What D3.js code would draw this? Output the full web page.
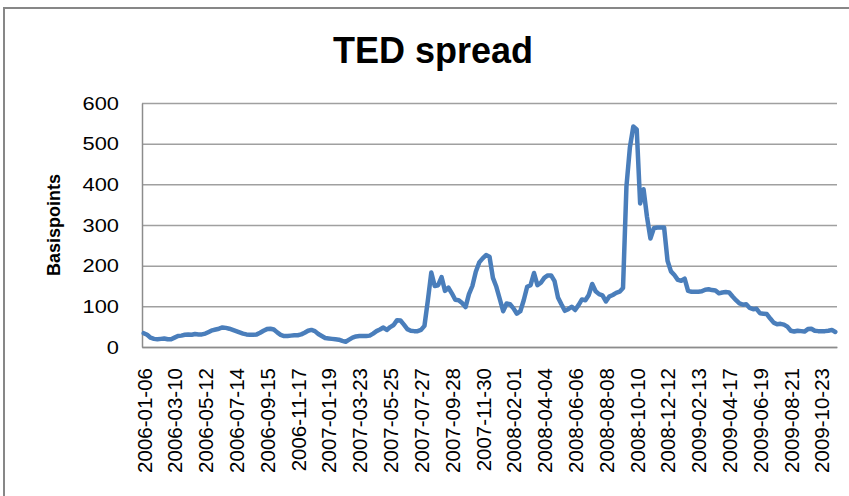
<!DOCTYPE html>
<html>
<head>
<meta charset="utf-8">
<script src="https://cdn.jsdelivr.net/npm/d3@7"></script>
<style>
  body { margin: 0; background: #fff; }
  svg { display: block; }
</style>
</head>
<body>
<svg id="chart"></svg>
<script>
'use strict'

// weekly TED spread (basis points), first week 2006-01-06
const startDate = '2006-01-06'
const spread = [
  34, 30, 23, 20, 19, 20, 21, 19, 19, 23,
  27, 28, 30, 31, 30, 32, 31, 31, 33, 37,
  41, 43, 45, 48, 47, 45, 42, 39, 36, 33,
  31, 30, 30, 31, 35, 40, 44, 45, 43, 36,
  30, 27, 27, 28, 29, 29, 31, 35, 40, 42,
  39, 32, 27, 22, 21, 20, 19, 18, 15, 13,
  18, 23, 26, 27, 27, 27, 28, 33, 39, 43,
  48, 42, 49, 54, 66, 65, 55, 44, 40, 39,
  39, 42, 52, 115, 183, 150, 152, 172, 138, 146,
  132, 116, 115, 108, 98, 130, 150, 185, 208, 218,
  226, 222, 170, 148, 118, 88, 107, 105, 95, 82,
  88, 115, 148, 152, 182, 152, 158, 170, 176, 176,
  162, 122, 105, 89, 93, 99, 91, 103, 117, 115,
  128, 155, 137, 130, 127, 112, 124, 128, 133, 136,
  145, 395, 490, 542, 535, 353, 388, 320, 267, 292,
  294, 294, 294, 212, 186, 177, 165, 163, 168, 138,
  136, 136, 136, 137, 141, 142, 140, 139, 132, 134,
  135, 134, 124, 115, 107, 104, 105, 96, 93, 94,
  83, 82, 81, 70, 60, 56, 57, 55, 50, 40,
  38, 40, 39, 38, 44, 45, 40, 39, 39, 39,
  40, 42, 37
]

const yTicks = [0, 100, 200, 300, 400, 500, 600]

const tickLabels = [
  '2006-01-06', '2006-03-10', '2006-05-12', '2006-07-14', '2006-09-15', '2006-11-17',
  '2007-01-19', '2007-03-23', '2007-05-25', '2007-07-27', '2007-09-28', '2007-11-30',
  '2008-02-01', '2008-04-04', '2008-06-06', '2008-08-08', '2008-10-10', '2008-12-12',
  '2009-02-13', '2009-04-17', '2009-06-19', '2009-08-21', '2009-10-23'
]

const chartTitle = 'TED spread'
const yTitle = 'Basispoints'

const width = 849,
      height = 496
const plot = { left: 142, right: 837, top: 103, bottom: 347 }

const parseDate = d3.utcParse('%Y-%m-%d'),
      formatDate = d3.utcFormat('%Y-%m-%d')
const dates = spread.map((d, i) => formatDate(d3.utcDay.offset(parseDate(startDate), 7 * i)))

const x = d3.scalePoint()
  .domain(dates)
  .range([plot.left, plot.right])
  .padding(0.5)

const y = d3.scaleLinear()
  .domain([0, 600])
  .range([plot.bottom, plot.top])

const svg = d3.select('#chart')
  .attr('width', width)
  .attr('height', height)

// outer chart frame
svg.append('rect')
  .attr('x', 4).attr('y', 8)
  .attr('width', 900).attr('height', 600)
  .attr('fill', '#fff')
  .attr('stroke', '#878787')
  .attr('stroke-width', 2)

// horizontal gridlines
svg.append('g')
  .attr('transform', `translate(${plot.left},0)`)
  .call(d3.axisLeft(y).tickValues(yTicks).tickSize(-(plot.right - plot.left)).tickFormat(''))
  .call(g => g.select('.domain').remove())
  .call(g => g.selectAll('line').attr('stroke', '#a0a0a0').attr('stroke-width', 1.5))

// y axis labels (slightly widened, like the original)
const yStretch = 1.15
svg.append('g')
  .attr('transform', `translate(${plot.left},0)`)
  .call(d3.axisLeft(y).tickValues(yTicks).tickSize(0))
  .call(g => g.select('.domain').attr('stroke', '#8c8c8c').attr('stroke-width', 1.5))
  .call(g => g.selectAll('text')
    .attr('x', -23 / yStretch)
    .attr('transform', `scale(${yStretch},1)`)
    .attr('fill', '#000')
    .style('font-family', 'Liberation Sans, Arial, sans-serif')
    .style('font-size', '19px'))

// x axis with rotated date labels
svg.append('g')
  .attr('transform', `translate(0,${plot.bottom})`)
  .call(d3.axisBottom(x).tickValues(tickLabels).tickSize(0))
  .call(g => g.select('.domain').attr('stroke', '#8c8c8c').attr('stroke-width', 1.5))
  .call(g => g.selectAll('text')
    .attr('transform', 'rotate(-90)')
    .attr('x', -21)
    .attr('y', 0)
    .attr('dy', '0.36em')
    .attr('fill', '#000')
    .style('text-anchor', 'end')
    .style('font-family', 'Liberation Sans, Arial, sans-serif')
    .style('font-size', '20.5px'))

// the spread line
const line = d3.line()
  .x((d, i) => x(dates[i]))
  .y(d => y(d))

svg.append('path')
  .datum(spread)
  .attr('d', line)
  .attr('fill', 'none')
  .attr('stroke', '#4a7ebb')
  .attr('stroke-width', 4.5)
  .attr('stroke-linejoin', 'round')
  .attr('stroke-linecap', 'round')

// title
svg.append('text')
  .attr('x', 433)
  .attr('y', 63)
  .attr('text-anchor', 'middle')
  .style('font-family', 'Liberation Sans, Arial, sans-serif')
  .style('font-weight', 'bold')
  .style('font-size', '36px')
  .text(chartTitle)

// y axis title
svg.append('text')
  .attr('transform', 'translate(60,225) rotate(-90)')
  .attr('text-anchor', 'middle')
  .style('font-family', 'Liberation Sans, Arial, sans-serif')
  .style('font-weight', 'bold')
  .style('font-size', '18px')
  .text(yTitle)
</script>
</body>
</html>
